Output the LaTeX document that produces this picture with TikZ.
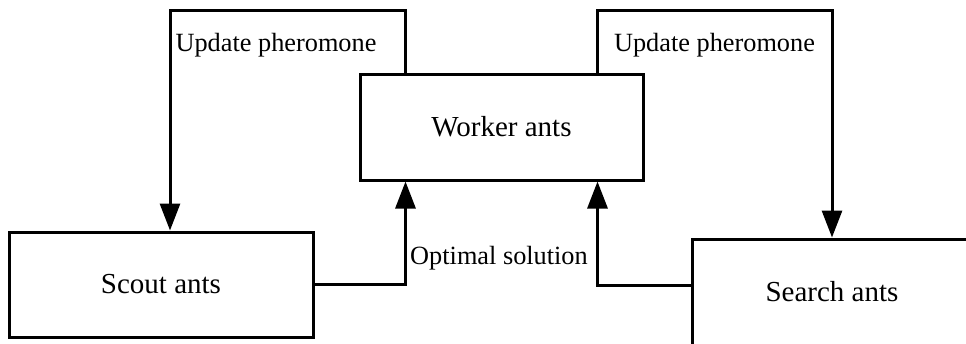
\documentclass[tikz,border=0pt]{standalone}
\usepackage{fontspec}
\setmainfont{Liberation Serif}
\usetikzlibrary{arrows.meta}
\begin{document}
\begin{tikzpicture}[x=1pt,y=-1pt,
  box/.style={draw, line width=3pt, inner sep=0pt, font=\fontsize{29}{32}\selectfont},
  lbl/.style={inner sep=0pt, font=\fontsize{26.3}{30}\selectfont},
  arr/.style={line width=3pt, -{Triangle[length=27pt,width=20pt]}}]
\useasboundingbox (0,0) rectangle (966,343);
\fill[white] (0,0) rectangle (966,343);
\node[box, minimum width=304pt, minimum height=105pt] (scout) at (161,284.5) {Scout ants};
\node[box, minimum width=283pt, minimum height=106pt] (worker) at (501.5,127) {Worker ants};
\node[box, minimum width=280pt, minimum height=106pt] (search) at (832,292) {Search ants};
\coordinate (ltop) at (170,10);
\coordinate (rtop) at (832,10);
\draw[arr] ([xshift=47pt]worker.north west) |- (ltop) -- (ltop |- scout.north);
\draw[arr] ([xshift=-47pt]worker.north east) |- (rtop) -- (search.north);
\draw[arr] (scout.east) -| ([xshift=47pt]worker.south west);
\draw[arr] ([yshift=7pt]search.west) -| ([xshift=-47pt]worker.south east);
\node[lbl] (u1) at (276,45) {Update pheromone};
\node[lbl] (u2) at (714.5,45) {Update pheromone};
\node[lbl] (opt) at (499,258) {Optimal solution};
\end{tikzpicture}
\end{document}
